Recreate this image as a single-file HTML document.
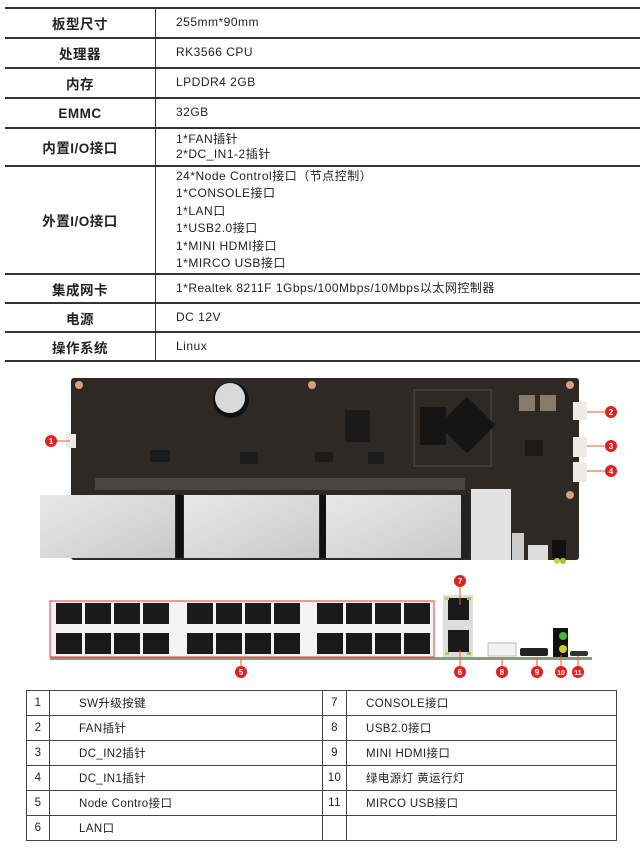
<!DOCTYPE html>
<html><head><meta charset="utf-8"><style>
body{margin:0;background:#fff;width:642px;height:850px;overflow:hidden;position:relative;font-family:"Liberation Sans","Noto Sans CJK SC",sans-serif;color:#222}
.t1{position:absolute;left:5px;top:7px;width:635px;border-collapse:collapse}
.t1 td{border-top:2px solid #333;border-bottom:2px solid #333;font-size:12px;padding:0;letter-spacing:0.5px}
.t1 td.l{width:150px;border-right:1.5px solid #333;text-align:center;font-weight:bold;font-size:13.5px}
.t1 td.r{padding-left:20px;line-height:17.5px}
.t2{position:absolute;left:26px;top:690px;width:591px;border-collapse:collapse;table-layout:fixed}
.t2 td{border:1.5px solid #444;font-size:11.5px;height:24px;padding:0;letter-spacing:0.4px;overflow:hidden;white-space:nowrap}
.n{text-align:center}
.a{padding-left:29px!important}
.b{padding-left:19px!important}
</style></head><body>
<table class="t1">
<tr style="height:30px"><td class="l">板型尺寸</td><td class="r">255mm*90mm</td></tr>
<tr style="height:30px"><td class="l">处理器</td><td class="r">RK3566 CPU</td></tr>
<tr style="height:30px"><td class="l">内存</td><td class="r">LPDDR4 2GB</td></tr>
<tr style="height:30px"><td class="l">EMMC</td><td class="r">32GB</td></tr>
<tr style="height:38px"><td class="l">内置I/O接口</td><td class="r" style="line-height:15px">1*FAN插针<br>2*DC_IN1-2插针</td></tr>
<tr style="height:108px"><td class="l">外置I/O接口</td><td class="r">24*Node Control接口（节点控制）<br>1*CONSOLE接口<br>1*LAN口<br>1*USB2.0接口<br>1*MINI HDMI接口<br>1*MIRCO USB接口</td></tr>
<tr style="height:29px"><td class="l">集成网卡</td><td class="r">1*Realtek 8211F 1Gbps/100Mbps/10Mbps以太网控制器</td></tr>
<tr style="height:29px"><td class="l">电源</td><td class="r">DC 12V</td></tr>
<tr style="height:29px"><td class="l">操作系统</td><td class="r">Linux</td></tr>
</table>

<svg style="position:absolute;left:0;top:370px" width="642" height="315" viewBox="0 370 642 315">
<defs>
<linearGradient id="sv" x1="0" y1="0" x2="1" y2="1"><stop offset="0" stop-color="#e8e8e8"/><stop offset="0.6" stop-color="#d6d6d6"/><stop offset="1" stop-color="#c8c8c8"/></linearGradient>
</defs>
<rect x="71" y="378" width="508" height="182" rx="3" fill="#2e2924"/>
<g fill="#d9a07a"><circle cx="79" cy="385" r="4"/><circle cx="312" cy="385" r="4"/><circle cx="570" cy="385" r="4"/><circle cx="570" cy="495" r="4"/></g>
<circle cx="231" cy="400" r="18" fill="#111"/><circle cx="230" cy="398" r="15" fill="#d8d8d8"/>
<rect x="414" y="390" width="77" height="76" fill="none" stroke="#555" stroke-width="0.8"/>
<rect x="420" y="407" width="26" height="38" fill="#151515"/>
<rect x="447" y="405" width="40" height="40" fill="#151515" transform="rotate(45 467 425)"/>
<rect x="345" y="410" width="25" height="32" fill="#1a1a1a"/>
<g fill="#1b1b1b"><rect x="150" y="450" width="20" height="12"/><rect x="240" y="452" width="18" height="12"/><rect x="315" y="452" width="18" height="10"/><rect x="368" y="452" width="16" height="12"/><rect x="525" y="440" width="18" height="16"/></g>
<g fill="#8a7a6a"><rect x="519" y="395" width="16" height="16"/><rect x="540" y="395" width="16" height="16"/></g>
<rect x="95" y="478" width="370" height="12" fill="#4a443e"/>
<g fill="#eeeae6"><rect x="573" y="402" width="14" height="18"/><rect x="573" y="437" width="14" height="20"/><rect x="573" y="462" width="14" height="20"/><rect x="66" y="434" width="10" height="14"/></g>
<rect x="40" y="495" width="135" height="63" fill="url(#sv)"/>
<rect x="176" y="495" width="7" height="63" fill="#111"/>
<rect x="184" y="495" width="135" height="63" fill="url(#sv)"/>
<rect x="320" y="495" width="6" height="63" fill="#111"/>
<rect x="326" y="495" width="135" height="63" fill="url(#sv)"/>
<rect x="461" y="495" width="9" height="63" fill="#222"/>
<rect x="471" y="489" width="40" height="71" fill="#e2e2e2"/>
<rect x="512" y="533" width="12" height="27" fill="#ccc"/>
<rect x="528" y="545" width="20" height="15" fill="#ddd"/>
<rect x="552" y="540" width="14" height="18" fill="#111"/>
<circle cx="557" cy="561" r="3" fill="#cc3"/><circle cx="563" cy="561" r="3" fill="#9c3"/>

<rect x="50" y="657" width="542" height="3" fill="#8a9a80"/>
<rect x="50" y="601" width="384" height="56" fill="#f4f4f4" stroke="#e33" stroke-width="1"/>
<g fill="#1a1a1a">
<g id="grp">
<rect x="56" y="603" width="26" height="21"/><rect x="85" y="603" width="26" height="21"/><rect x="114" y="603" width="26" height="21"/><rect x="143" y="603" width="26" height="21"/>
<rect x="56" y="633" width="26" height="21"/><rect x="85" y="633" width="26" height="21"/><rect x="114" y="633" width="26" height="21"/><rect x="143" y="633" width="26" height="21"/>
</g>
<use href="#grp" x="131"/><use href="#grp" x="261"/>
</g>
<rect x="443" y="595" width="30" height="62" fill="#ddd"/>
<rect x="448" y="598" width="21" height="22" fill="#1a1a1a"/><rect x="448" y="630" width="21" height="22" fill="#1a1a1a"/>
<g fill="#cc3"><rect x="445" y="597" width="4" height="3"/><rect x="445" y="652" width="4" height="3"/></g>
<g fill="#9c3"><rect x="467" y="597" width="4" height="3"/><rect x="467" y="652" width="4" height="3"/></g>
<rect x="488" y="643" width="28" height="13" fill="#f2f2f2" stroke="#bbb"/>
<rect x="520" y="648" width="28" height="8" rx="2" fill="#222"/>
<rect x="553" y="628" width="15" height="29" fill="#111"/>
<circle cx="563" cy="636" r="4" fill="#4b3"/><circle cx="563" cy="649" r="4" fill="#cc2"/>
<rect x="570" y="651" width="18" height="5" rx="2" fill="#333"/>

<g stroke="#e52" stroke-width="1">
<line x1="51" y1="441" x2="70" y2="441"/><line x1="587" y1="412" x2="611" y2="412"/><line x1="587" y1="446" x2="611" y2="446"/><line x1="587" y1="471" x2="611" y2="471"/>
<line x1="460" y1="581" x2="460" y2="605"/><line x1="241" y1="657" x2="241" y2="672"/><line x1="460" y1="650" x2="460" y2="672"/><line x1="502" y1="657" x2="502" y2="672"/><line x1="537" y1="657" x2="537" y2="672"/><line x1="561" y1="655" x2="561" y2="672"/><line x1="578" y1="656" x2="578" y2="672"/>
</g>
<g fill="#e31f1f">
<circle cx="51" cy="441" r="6"/><circle cx="611" cy="412" r="6"/><circle cx="611" cy="446" r="6"/><circle cx="611" cy="471" r="6"/><circle cx="460" cy="581" r="6"/><circle cx="241" cy="672" r="6"/><circle cx="460" cy="672" r="6"/><circle cx="502" cy="672" r="6"/><circle cx="537" cy="672" r="6"/><circle cx="561" cy="672" r="6"/><circle cx="578" cy="672" r="6"/>
</g>
<g fill="#fff" font-size="8" font-weight="bold" text-anchor="middle" font-family="Liberation Sans,sans-serif">
<text x="51" y="444">1</text><text x="611" y="415">2</text><text x="611" y="449">3</text><text x="611" y="474">4</text><text x="460" y="584">7</text><text x="241" y="675">5</text><text x="460" y="675">6</text><text x="502" y="675">8</text><text x="537" y="675">9</text><text x="561" y="675" font-size="7">10</text><text x="578" y="675" font-size="7">11</text>
</g>
</svg>

<table class="t2">
<colgroup><col style="width:23px"><col style="width:273px"><col style="width:24px"><col></colgroup>
<tr><td class="n">1</td><td class="a">SW升级按键</td><td class="n">7</td><td class="b">CONSOLE接口</td></tr>
<tr><td class="n">2</td><td class="a">FAN插针</td><td class="n">8</td><td class="b">USB2.0接口</td></tr>
<tr><td class="n">3</td><td class="a">DC_IN2插针</td><td class="n">9</td><td class="b">MINI HDMI接口</td></tr>
<tr><td class="n">4</td><td class="a">DC_IN1插针</td><td class="n">10</td><td class="b">绿电源灯 黄运行灯</td></tr>
<tr><td class="n">5</td><td class="a">Node Contro接口</td><td class="n">11</td><td class="b">MIRCO USB接口</td></tr>
<tr><td class="n">6</td><td class="a">LAN口</td><td class="n"></td><td class="b"></td></tr>
</table>
</body></html>
